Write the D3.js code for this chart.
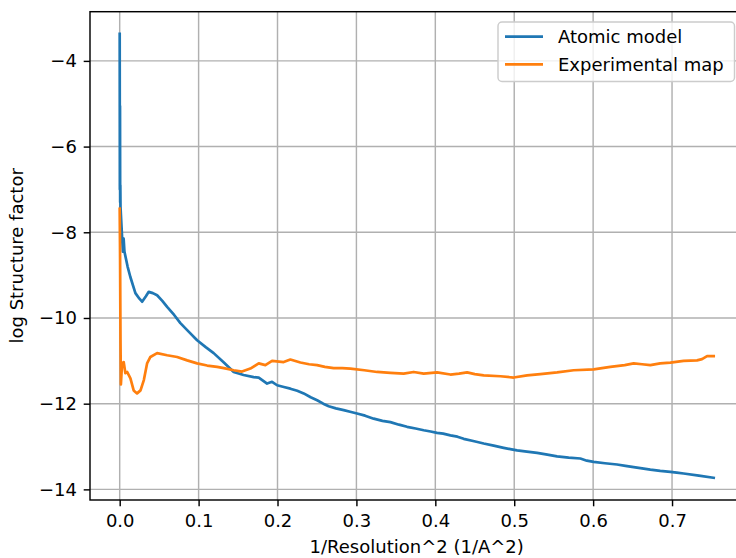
<!DOCTYPE html>
<html>
<head>
<meta charset="utf-8">
<script src="https://cdn.jsdelivr.net/npm/d3@7"></script>
<style>
  body { margin: 0; background: #fff; }
  svg { display: block; }
  text { font-family: "DejaVu Sans", sans-serif; }
</style>
</head>
<body>
<script>
// Structure factor fall-off vs. 1/resolution^2
const atomicX = [0.0000, 0.0002, 0.0004, 0.0006, 0.0008, 0.0010, 0.0030, 0.0040, 0.0050, 0.0060,
  0.0100, 0.0136, 0.0199, 0.0250, 0.0284, 0.0330, 0.0368, 0.0420, 0.0474, 0.0540, 0.0601,
  0.0690, 0.0769, 0.0880, 0.0981, 0.1090, 0.1191, 0.1320, 0.1445, 0.1570, 0.1698, 0.1762,
  0.1868, 0.1931, 0.1995, 0.2080, 0.2163, 0.2250, 0.2332, 0.2420, 0.2502, 0.2580, 0.2649,
  0.2740, 0.2839, 0.2920, 0.3008, 0.3110, 0.3219, 0.3330, 0.3431, 0.3540, 0.3642, 0.3750,
  0.3853, 0.3940, 0.4022, 0.4100, 0.4191, 0.4280, 0.4359, 0.4480, 0.4613, 0.4740, 0.4866,
  0.4950, 0.5036, 0.5160, 0.5290, 0.5420, 0.5543, 0.5690, 0.5838, 0.5920, 0.6007, 0.6150,
  0.6303, 0.6410, 0.6514, 0.6620, 0.6725, 0.6850, 0.6979, 0.7060, 0.7147, 0.7340, 0.7528];
const atomicY = [-3.37, -7.00, -5.05, -7.30, -6.90, -7.40, -8.11, -8.45, -8.15, -8.45,
  -8.80, -9.05, -9.42, -9.55, -9.62, -9.50, -9.39, -9.42, -9.47, -9.60, -9.74,
  -9.93, -10.12, -10.33, -10.52, -10.68, -10.82, -11.04, -11.26, -11.33, -11.38, -11.39,
  -11.53, -11.49, -11.57, -11.61, -11.65, -11.70, -11.76, -11.85, -11.92, -12.00, -12.06,
  -12.11, -12.15, -12.19, -12.23, -12.28, -12.35, -12.40, -12.43, -12.49, -12.54, -12.58,
  -12.62, -12.65, -12.68, -12.70, -12.74, -12.77, -12.82, -12.87, -12.93, -12.98, -13.03,
  -13.06, -13.09, -13.12, -13.15, -13.19, -13.23, -13.26, -13.28, -13.33, -13.36, -13.39,
  -13.42, -13.45, -13.48, -13.51, -13.54, -13.57, -13.59, -13.61, -13.63, -13.68, -13.73];

const mapX = [0.0000, 0.0005, 0.0010, 0.0015, 0.0030, 0.0051, 0.0072, 0.0094, 0.0136, 0.0177,
  0.0220, 0.0264, 0.0306, 0.0347, 0.0389, 0.0474, 0.0601, 0.0728, 0.0855, 0.0981, 0.1108,
  0.1235, 0.1320, 0.1445, 0.1550, 0.1656, 0.1762, 0.1846, 0.1931, 0.2078, 0.2163, 0.2290,
  0.2400, 0.2502, 0.2600, 0.2712, 0.2820, 0.2924, 0.3100, 0.3262, 0.3431, 0.3599, 0.3726,
  0.3853, 0.4022, 0.4191, 0.4300, 0.4403, 0.4500, 0.4613, 0.4825, 0.4993, 0.5163, 0.5331,
  0.5543, 0.5753, 0.6007, 0.6218, 0.6400, 0.6514, 0.6620, 0.6725, 0.6850, 0.6979, 0.7147,
  0.7317, 0.7380, 0.7444, 0.7528];
const mapY = [-7.45, -8.60, -10.50, -11.55, -11.06, -11.03, -11.29, -11.26, -11.41, -11.69,
  -11.76, -11.69, -11.45, -11.06, -10.91, -10.82, -10.87, -10.91, -10.99, -11.06, -11.11,
  -11.14, -11.17, -11.22, -11.25, -11.18, -11.06, -11.10, -11.00, -11.03, -10.97, -11.04,
  -11.08, -11.10, -11.14, -11.17, -11.17, -11.18, -11.22, -11.26, -11.28, -11.30, -11.26,
  -11.30, -11.27, -11.32, -11.30, -11.27, -11.31, -11.34, -11.36, -11.39, -11.34, -11.31,
  -11.27, -11.22, -11.20, -11.14, -11.10, -11.06, -11.08, -11.10, -11.06, -11.04, -11.00,
  -10.99, -10.96, -10.89, -10.89];

const xTicks = [0.0, 0.1, 0.2, 0.3, 0.4, 0.5, 0.6, 0.7];
const yTicks = [-14, -12, -10, -8, -6, -4];

const seriesNames = ["Atomic model", "Experimental map"];
const seriesColors = ["#1f77b4", "#ff7f0e"];

const W = 736, H = 558;
const FONT = 18;
// the right edge of the axes sits just past the visible canvas
const plot = { left: 90, right: 743.4, top: 11.7, bottom: 500 };

const svg = d3.select("body").append("svg")
  .attr("width", W).attr("height", H);

// 5% padding around the data range on both axes
function padded(lo, hi) { const r = hi - lo; return [lo - 0.05 * r, hi + 0.05 * r]; }
const allX = atomicX.concat(mapX), allY = atomicY.concat(mapY);
const x = d3.scaleLinear().domain(padded(d3.min(allX), d3.max(allX))).range([plot.left, plot.right]);
const y = d3.scaleLinear().domain(padded(d3.min(allY), d3.max(allY))).range([plot.bottom, plot.top]);

// grid
const grid = svg.append("g").attr("stroke", "#b0b0b0").attr("stroke-width", 1.44);
xTicks.forEach(t => grid.append("line")
  .attr("x1", x(t)).attr("x2", x(t)).attr("y1", plot.top).attr("y2", plot.bottom));
yTicks.forEach(t => grid.append("line")
  .attr("y1", y(t)).attr("y2", y(t)).attr("x1", plot.left).attr("x2", plot.right));

// curves
svg.append("clipPath").attr("id", "clip").append("rect")
  .attr("x", plot.left).attr("y", plot.top)
  .attr("width", plot.right - plot.left).attr("height", plot.bottom - plot.top);

const line = d3.line().x(d => x(d[0])).y(d => y(d[1]));
const series = [
  d3.zip(atomicX, atomicY),
  d3.zip(mapX, mapY)
];
series.forEach((pts, i) => {
  svg.append("path")
    .attr("clip-path", "url(#clip)")
    .attr("d", line(pts))
    .attr("fill", "none")
    .attr("stroke", seriesColors[i])
    .attr("stroke-width", 2.7)
    .attr("stroke-linejoin", "round")
    .attr("stroke-linecap", "square");
});

// axes
const xAxis = d3.axisBottom(x).tickValues(xTicks).tickFormat(d3.format(".1f"))
  .tickSize(6.3).tickPadding(7.5);
const yAxis = d3.axisLeft(y).tickValues(yTicks).tickFormat(d3.format("d"))
  .tickSize(6.3).tickPadding(6.8);

const gx = svg.append("g").attr("transform", `translate(0,${plot.bottom})`).call(xAxis);
const gy = svg.append("g").attr("transform", `translate(${plot.left},0)`).call(yAxis);
[gx, gy].forEach(g => {
  g.select(".domain").remove();
  g.selectAll(".tick line").attr("stroke", "#000").attr("stroke-width", 1.44);
  g.selectAll(".tick text").attr("fill", "#000")
    .style("font-family", '"DejaVu Sans", sans-serif').style("font-size", FONT + "px");
});

// spines
const spines = svg.append("g").attr("stroke", "#000").attr("stroke-width", 1.44).attr("fill", "none");
spines.append("rect")
  .attr("x", plot.left).attr("y", plot.top)
  .attr("width", plot.right - plot.left).attr("height", plot.bottom - plot.top);

// axis titles
svg.append("text")
  .attr("x", (plot.left + plot.right) / 2).attr("y", 552.5)
  .attr("text-anchor", "middle").attr("font-size", FONT).attr("fill", "#000")
  .text("1/Resolution^2 (1/A^2)");
svg.append("text")
  .attr("transform", `translate(22.5,${(plot.top + plot.bottom) / 2}) rotate(-90)`)
  .attr("text-anchor", "middle").attr("font-size", FONT).attr("fill", "#000")
  .text("log Structure factor");

// legend
const legend = svg.append("g");
legend.append("rect")
  .attr("x", 498).attr("y", 22).attr("width", 236.5).attr("height", 59.5).attr("rx", 4)
  .attr("fill", "#fff").attr("fill-opacity", 0.8)
  .attr("stroke", "#cccccc").attr("stroke-width", 1.44);
seriesNames.forEach((name, i) => {
  const ly = 36.7 + i * 27.6;
  legend.append("line")
    .attr("x1", 505).attr("x2", 543).attr("y1", ly).attr("y2", ly)
    .attr("stroke", seriesColors[i]).attr("stroke-width", 2.7);
  legend.append("text")
    .attr("x", 558).attr("y", ly).attr("dy", "0.36em")
    .attr("font-size", FONT).attr("fill", "#000")
    .text(name);
});
</script>
</body>
</html>
